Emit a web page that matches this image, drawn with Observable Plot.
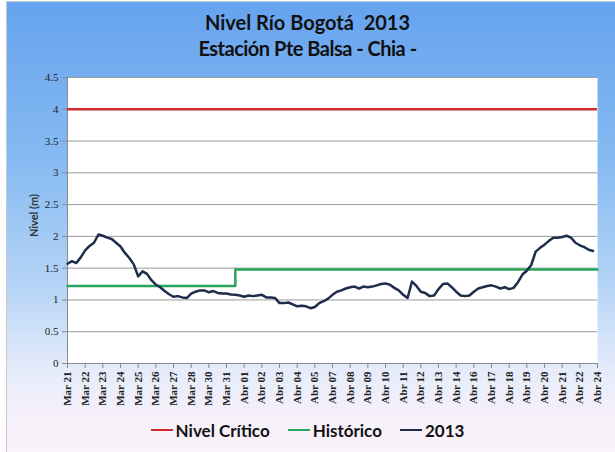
<!DOCTYPE html>
<html>
<head>
<meta charset="utf-8">
<script src="https://cdn.jsdelivr.net/npm/d3@7"></script>
<script src="https://cdn.jsdelivr.net/npm/@observablehq/plot@0.6"></script>
<style>
  html, body { margin: 0; padding: 0; background: #ffffff; }
  #chart {
    position: absolute; left: 6px; top: 1px; width: 609px; height: 451px;
    border-left: 1px solid #c8c8c8; border-top: 1px solid #c8c8c8;
    background: linear-gradient(to bottom, #66a3ee 0%, #86baf2 35%, #b3d3f6 62%, #e6ecfa 82%, #f6f0fa 92%, #fbf3fb 100%);
    overflow: hidden;
  }
  .title { position: absolute; left: -7px; width: 615px; text-align: center; font-family: Lato, "Open Sans", sans-serif; font-weight: bold; color: #111; white-space: pre; font-size: 20px; line-height: 24px; }
  #plot { position: absolute; left: -7px; top: 58px; }
  #plot svg text { font-family: "Liberation Serif", "DejaVu Serif", serif !important; }
  #ylab { position: absolute; left: 26px; top: 214px; width: 60px; text-align: center; transform: translate(-30px, -7px) rotate(-90deg); font-family: Lato, sans-serif; font-weight: bold; font-size: 11px; color: #333; }
  #legend { position: absolute; left: -7px; top: 412px; width: 615px; text-align: center; font-family: Lato, "Open Sans", sans-serif; font-weight: bold; font-size: 17px; color: #111; }
  .item { display: inline-flex; align-items: center; margin: 0 9px; }
  .sw { display: inline-block; width: 22px; height: 0; border-top: 2.5px solid; margin-right: 3px; }
</style>
</head>
<body>
<div id="chart">
  <div class="title" style="top:8px;">Nivel Río Bogotá  2013</div>
  <div class="title" style="top:34px;letter-spacing:-0.5px;">Estación Pte Balsa - Chia -</div>
  <div id="plot"></div>
  <div id="ylab">Nivel (m)</div>
  <div id="legend"></div>
</div>
<script>
// Category labels along the x axis
const labels = ["Mar 21","Mar 22","Mar 23","Mar 24","Mar 25","Mar 26","Mar 27","Mar 28","Mar 30","Mar 31",
  "Abr 01","Abr 02","Abr 03","Abr 04","Abr 05","Abr 07","Abr 08","Abr 09","Abr 10","Abr 11","Abr 12",
  "Abr 13","Abr 14","Abr 16","Abr 17","Abr 18","Abr 19","Abr 20","Abr 21","Abr 22","Abr 24"];

// Y tick values
const yTicks = [0, 0.5, 1, 1.5, 2, 2.5, 3, 3.5, 4, 4.5];

// Series
const nivelCritico = 4;
const historico = [1.22,1.22,1.22,1.22,1.22,1.22,1.22,1.22,1.22,1.22,
  1.48,1.48,1.48,1.48,1.48,1.48,1.48,1.48,1.48,1.48,1.48,1.48,1.48,1.48,1.48,1.48,1.48,1.48,1.48,1.48,1.48];
const readingsPerLabel = 4;
const nivel2013 = [
  1.57,1.61,1.58,1.67,1.78,1.85,1.90,2.03,2.01,1.98,
  1.96,1.90,1.84,1.74,1.66,1.56,1.37,1.45,1.41,1.31,
  1.24,1.20,1.14,1.09,1.05,1.06,1.04,1.03,1.10,1.13,
  1.15,1.15,1.12,1.14,1.11,1.10,1.10,1.085,1.08,1.07,
  1.05,1.07,1.06,1.07,1.08,1.04,1.04,1.03,0.95,0.95,
  0.96,0.93,0.90,0.91,0.90,0.87,0.89,0.95,0.98,1.02,
  1.08,1.13,1.15,1.18,1.20,1.21,1.18,1.21,1.20,1.21,
  1.23,1.25,1.26,1.24,1.19,1.15,1.08,1.03,1.29,1.22,
  1.13,1.11,1.06,1.07,1.17,1.25,1.26,1.20,1.13,1.07,
  1.06,1.07,1.13,1.18,1.20,1.22,1.23,1.21,1.18,1.20,
  1.17,1.19,1.28,1.40,1.46,1.55,1.76,1.82,1.87,1.93,
  1.98,1.98,1.99,2.01,1.98,1.90,1.86,1.83,1.79,1.77
];

const colors = { critico: "#d42a2a", historico: "#27a55c", y2013: "#1e2d4c" };
const serif = "'Liberation Serif', 'DejaVu Serif', serif";

const series2013 = nivel2013.map((v, i) => ({ x: i / readingsPerLabel, y: v }));
const histData = historico.map((v, i) => ({ x: i, y: v }));
const tickIdx = labels.map((_, i) => i);

const chart = Plot.plot({
  width: 615,
  height: 360,
  marginLeft: 67,
  marginRight: 18,
  marginTop: 17,
  marginBottom: 57,
  style: { background: "transparent", overflow: "visible", fontFamily: serif },
  x: { domain: [0, labels.length - 1] },
  y: { domain: [0, 4.5] },
  marks: [
    Plot.frame({ fill: "white", stroke: null }),
    Plot.gridY(yTicks, { stroke: "#9a9a9a", strokeOpacity: 1 }),
    Plot.ruleX([0], { stroke: "#8a8a8a" }),
    Plot.ruleY([0], { stroke: "#8a8a8a" }),
    Plot.axisY(yTicks, {
      tickFormat: d => String(d), tickSize: 5, tickPadding: 4, stroke: "#8a8a8a",
      fontFamily: serif, fontSize: 11, fill: "#222", label: null
    }),
    Plot.axisX(tickIdx, {
      tickFormat: i => labels[i], tickRotate: -90, tickSize: 5, tickPadding: 3, stroke: "#8a8a8a",
      fontFamily: serif, fontWeight: "bold", fontSize: 11, fill: "#222", label: null
    }),
    Plot.ruleY([nivelCritico], { stroke: colors.critico, strokeWidth: 2.5 }),
    Plot.line(histData, { x: "x", y: "y", curve: "step", stroke: colors.historico, strokeWidth: 2.5 }),
    Plot.line(series2013, { x: "x", y: "y", stroke: colors.y2013, strokeWidth: 2.5 })
  ]
});
document.getElementById("plot").appendChild(chart);

const legendItems = [
  { name: "Nivel Crítico", color: colors.critico },
  { name: "Histórico", color: colors.historico },
  { name: "2013", color: colors.y2013 }
];
const legend = document.getElementById("legend");
legendItems.forEach(it => {
  const s = document.createElement("span");
  s.className = "item";
  s.innerHTML = `<span class="sw" style="border-color:${it.color}"></span>${it.name}`;
  legend.appendChild(s);
});
</script>
</body>
</html>
